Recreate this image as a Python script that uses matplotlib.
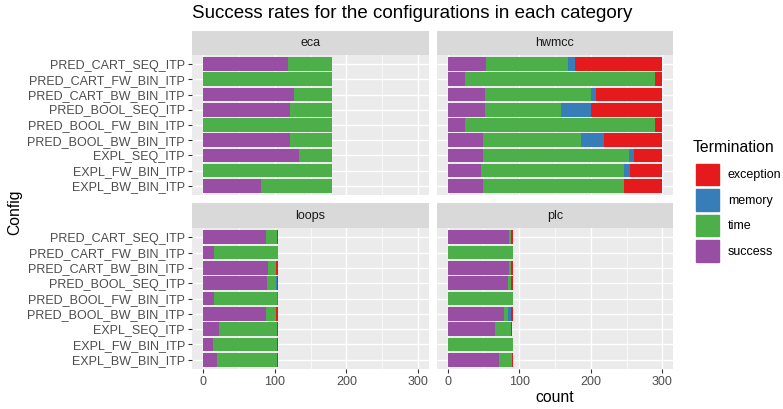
import numpy as np
import matplotlib
matplotlib.use("Agg")
import matplotlib.pyplot as plt
from matplotlib.patches import Patch

plt.rcParams['font.family'] = ['Liberation Sans', 'DejaVu Sans']

# configurations, listed from top to bottom as in the chart
configs = ["PRED_CART_SEQ_ITP", "PRED_CART_FW_BIN_ITP", "PRED_CART_BW_BIN_ITP",
           "PRED_BOOL_SEQ_ITP", "PRED_BOOL_FW_BIN_ITP", "PRED_BOOL_BW_BIN_ITP",
           "EXPL_SEQ_ITP", "EXPL_FW_BIN_ITP", "EXPL_BW_BIN_ITP"]
categories = ["eca", "hwmcc", "loops", "plc"]
terminations = ["success", "time", "memory", "exception"]
colors = {"success": "#984EA3", "time": "#4DAF4A", "memory": "#377EB8", "exception": "#E41A1C"}

# counts per termination (same order as configs)
eca_success = [119, 0, 127, 121, 0, 122, 134, 0, 81]
eca_time = [61, 180, 53, 59, 180, 58, 46, 180, 99]
eca_memory = [0, 0, 0, 0, 0, 0, 0, 0, 0]
eca_exception = [0, 0, 0, 0, 0, 0, 0, 0, 0]

hwmcc_success = [54, 24, 52, 52, 24, 49, 49, 46, 50]
hwmcc_time = [114, 266, 149, 107, 266, 138, 204, 201, 197]
hwmcc_memory = [10, 0, 6, 41, 0, 32, 7, 8, 0]
hwmcc_exception = [122, 10, 93, 100, 10, 81, 40, 45, 53]

loops_success = [88, 15, 91, 90, 15, 88, 23, 14, 20]
loops_time = [16, 90, 11, 12, 89, 14, 81, 90, 84]
loops_memory = [0, 0, 0, 1, 1, 0, 0, 0, 0]
loops_exception = [1, 0, 3, 2, 0, 3, 1, 1, 1]

plc_success = [86, 0, 86, 84, 0, 79, 66, 0, 71]
plc_time = [2, 91, 2, 4, 91, 5, 22, 91, 19]
plc_memory = [0, 0, 0, 0, 0, 4, 0, 0, 0]
plc_exception = [3, 0, 3, 3, 0, 3, 2, 0, 1]

data = {
    "eca": [eca_success, eca_time, eca_memory, eca_exception],
    "hwmcc": [hwmcc_success, hwmcc_time, hwmcc_memory, hwmcc_exception],
    "loops": [loops_success, loops_time, loops_memory, loops_exception],
    "plc": [plc_success, plc_time, plc_memory, plc_exception],
}

W, H = 783, 409
fig = plt.figure(figsize=(W / 100, H / 100), dpi=100)

def fx(px):
    return px / W

def fy(px):
    return 1 - px / H

# panel boxes in pixels
cols = [(192, 429), (437, 673)]
rows = [(55, 195), (228, 369)]
strips = [(31, 55), (203, 228)]

ypos = np.arange(len(configs))[::-1] + 1

for k, cat in enumerate(categories):
    r, c = divmod(k, 2)
    x0, x1 = cols[c]
    t, b = rows[r]
    ax = fig.add_axes([fx(x0), fy(b), fx(x1 - x0), (b - t) / H])
    ax.set_facecolor("#EBEBEB")
    for s in ax.spines.values():
        s.set_visible(False)
    ax.set_xlim(-15, 315)
    ax.set_ylim(0.4, 9.6)
    ax.set_xticks([0, 100, 200, 300])
    ax.set_xticks([50, 150, 250], minor=True)
    ax.set_yticks(ypos)
    ax.grid(True, which="major", color="white", linewidth=1.0)
    ax.grid(True, which="minor", axis="x", color="white", linewidth=0.5)
    ax.set_axisbelow(True)

    left = np.zeros(len(configs))
    for term, vals in zip(terminations, data[cat]):
        vals = np.array(vals, dtype=float)
        ax.barh(ypos, vals, left=left, height=0.9, color=colors[term], linewidth=0)
        left += vals

    ax.tick_params(axis="both", which="both", colors="#333333", length=3, width=0.8,
                   labelsize=9, labelcolor="#4D4D4D", pad=2)
    ax.tick_params(axis="x", which="minor", length=0)
    if c == 0:
        ax.set_yticklabels(configs)
    else:
        ax.tick_params(axis="y", length=0, labelleft=False)
    if r == 0:
        ax.tick_params(axis="x", length=0, labelbottom=False)

    st, sb = strips[r]
    sax = fig.add_axes([fx(x0), fy(sb), fx(x1 - x0), (sb - st) / H])
    sax.set_facecolor("#D9D9D9")
    sax.set_xticks([])
    sax.set_yticks([])
    for s in sax.spines.values():
        s.set_visible(False)
    sax.text(0.5, 0.5, cat, ha="center", va="center", fontsize=9, color="#1A1A1A",
             transform=sax.transAxes)

fig.text(fx(192), fy(13), "Success rates for the configurations in each category",
         ha="left", va="center", fontsize=13.5, color="black")
fig.text(fx(15), fy(212), "Config", rotation=90, ha="center", va="center", fontsize=11.3)
fig.text(fx(555), fy(398), "count", ha="center", va="center", fontsize=11.3)

# legend
fig.text(fx(693), fy(148), "Termination", ha="left", va="center", fontsize=11.3)
handles = [Patch(facecolor=colors[t], edgecolor=colors[t], linewidth=1.0, joinstyle="miter")
           for t in terminations[::-1]]
fig.legend(handles, terminations[::-1], loc="upper left",
           bbox_to_anchor=(fx(695.7), fy(163.7)), frameon=False, fontsize=9,
           handlelength=1.89, handleheight=2.28, labelspacing=0.31,
           handletextpad=0.67, borderpad=0, borderaxespad=0)

fig.savefig("out.png", dpi=100)
